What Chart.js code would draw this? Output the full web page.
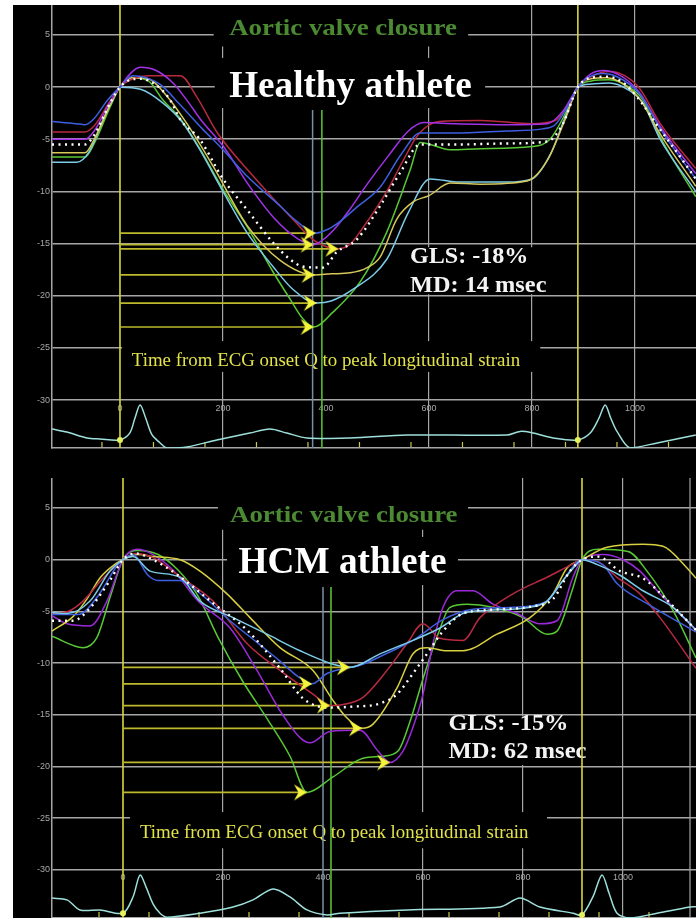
<!DOCTYPE html>
<html>
<head>
<meta charset="utf-8">
<title>Segmental longitudinal strain – healthy vs HCM athlete</title>
<script src="https://cdn.jsdelivr.net/npm/chart.js@4.4.1/dist/chart.umd.min.js"></script>
<style>
  html, body { margin:0; padding:0; width:696px; height:918px; background:#fff; overflow:hidden; }
  #sheet { position:absolute; left:13px; top:5px; width:683px; height:913px; background:#000; }
  canvas { position:absolute; left:13px; display:block; }
  #healthyChart { top:5px; }
  #hcmChart { top:478px; }
</style>
</head>
<body>
<div id="sheet"></div>
<canvas id="healthyChart" width="683" height="446"></canvas>
<canvas id="hcmChart" width="683" height="440"></canvas>
<script>
// ---------- shared axis labels ----------
const yTickValues = [5, 0, -5, -10, -15, -20, -25, -30];
const timeTickLabels = [0, 200, 400, 600, 800, 1000];
const timeGridValues = [200, 600, 800, 1000];

// ---------- healthy athlete: segmental strain [time ms, strain %] ----------
const healthyBlue = [[-132,-3.3],[-85,-3.5],[-68,-3.6],[-50,-3.0],[-25,-1.3],[0,0],[25,1.1],[50,0.9],[80,0.2],[115,-1.6],[160,-4.0],[200,-6.0],[246,-8.5],[311,-11.4],[344,-12.9],[380,-14.0],[405,-13.6],[427,-12.9],[460,-11.5],[505,-9.6],[545,-6.5],[583,-4.4],[650,-4.4],[750,-4.2],[820,-4.0],[845,-3.6],[870,-1.8],[889,0],[912,1.0],[935,1.3],[965,1.0],[1010,-0.7],[1049,-4.0],[1118,-8.8]];
const healthyViolet = [[-132,-5.0],[-68,-5.0],[-50,-4.2],[-20,-1.5],[0,0],[20,1.3],[39,1.9],[70,1.6],[103,0.4],[135,-1.6],[155,-3.0],[204,-5.9],[250,-9.4],[300,-12.6],[344,-14.5],[376,-15.1],[395,-14.6],[420,-13.4],[445,-11.8],[480,-9.3],[524,-6.4],[560,-4.2],[590,-3.4],[650,-3.5],[750,-3.6],[830,-3.5],[860,-2.3],[889,0],[915,1.3],[940,1.6],[975,1.0],[1010,-0.6],[1049,-3.8],[1118,-8.3]];
const healthyRed = [[-132,-4.3],[-68,-4.3],[-50,-3.7],[-20,-1.4],[0,0],[25,0.8],[55,1.1],[117,1.1],[150,-1.0],[188,-4.3],[258,-8.5],[336,-12.7],[380,-14.8],[424,-15.5],[448,-15.0],[470,-13.6],[518,-10.0],[548,-7.2],[580,-4.5],[620,-3.3],[700,-3.2],[800,-3.5],[845,-3.2],[870,-1.7],[889,0],[915,1.0],[950,1.5],[980,1.1],[1010,-0.2],[1049,-3.5],[1118,-7.8]];
const healthyYellow = [[-132,-6.3],[-68,-6.3],[-50,-5.0],[-20,-1.8],[0,0],[25,0.9],[55,0.8],[90,-0.8],[130,-3.5],[181,-7.6],[246,-13.2],[311,-16.6],[378,-18.0],[410,-17.9],[447,-17.8],[480,-17.3],[505,-16.3],[538,-12.6],[569,-11.0],[600,-10.4],[641,-9.2],[700,-9.3],[790,-9.0],[830,-7.0],[865,-3.0],[889,0],[915,0.8],[945,0.9],[980,0.2],[1010,-1.2],[1049,-4.5],[1118,-9.5]];
const healthyCyan = [[-132,-7.2],[-84,-7.2],[-60,-6.2],[-30,-2.8],[-10,-0.7],[0,0],[40,-0.2],[83,-1.5],[120,-3.3],[155,-6.0],[200,-10.0],[246,-13.9],[297,-17.2],[336,-19.4],[382,-20.7],[410,-20.5],[452,-19.4],[518,-16.5],[560,-12.0],[602,-8.8],[660,-9.1],[751,-9.1],[800,-8.8],[835,-6.5],[865,-2.8],[889,0],[915,0.3],[950,0.4],[985,-0.2],[1015,-1.5],[1049,-5.0],[1118,-10.0]];
const healthyGreen = [[-132,-6.7],[-68,-6.7],[-50,-5.4],[-20,-2.0],[0,0],[25,0.9],[55,0.6],[83,-1.2],[117,-3.0],[155,-5.9],[200,-9.8],[246,-13.3],[297,-17.7],[330,-20.3],[355,-22.2],[376,-23.0],[413,-21.6],[466,-18.7],[518,-13.9],[563,-8.0],[583,-5.3],[641,-6.0],[700,-5.9],[800,-5.7],[835,-5.0],[865,-2.5],[889,0],[915,0.6],[950,0.7],[985,0.1],[1015,-1.2],[1049,-4.8],[1118,-10.5]];
const healthyMean = [[-132,-5.5],[-68,-5.5],[-50,-4.6],[-20,-1.6],[0,0],[20,0.7],[40,0.8],[70,0.2],[97,-1.2],[117,-3.1],[155,-5.0],[200,-8.8],[246,-11.7],[297,-14.9],[330,-16.5],[355,-17.2],[394,-17.3],[421,-15.8],[460,-14.6],[505,-11.4],[544,-8.2],[583,-5.5],[650,-5.5],[750,-5.4],[830,-5.2],[860,-3.5],[889,0],[915,0.9],[945,1.0],[975,0.5],[1005,-1.0],[1045,-3.8],[1085,-6.5],[1118,-8.8]];
// time to peak strain per segment (blue, violet, red, yellow, cyan, green)
const healthyPeakTime = [380, 376, 424, 378, 382, 376];
const healthyPeakStrain = [-14.0, -15.1, -15.5, -18.0, -20.7, -23.0];
const healthyEcg = [[-132,0.27],[-103,0.18],[-64,0.0],[-39,-0.03],[0,-0.06],[19,0.15],[29,0.6],[39,1.0],[50,0.6],[62,0.1],[78,-0.15],[91,-0.3],[130,-0.27],[188,-0.06],[252,0.15],[291,0.27],[324,0.15],[363,0.0],[447,0.0],[557,0.09],[751,0.09],[777,0.2],[802,0.15],[841,0.0],[889,-0.06],[913,0.15],[930,0.6],[942,1.0],[953,0.6],[965,0.2],[990,-0.3],[1043,-0.15],[1118,0.09]];
const healthyQDots = [[0,-0.06],[889,-0.06]];
const healthyQOnset = [0, 889];
const healthyAvc = [374, 392];
const healthyEcgTicks = [-35, 65, 165, 265, 365, 465, 565, 665, 765, 865, 965, 1065];

// ---------- HCM athlete: segmental strain [time ms, strain %] ----------
const hcmBlue = [[-142,-5.3],[-90,-5.3],[-50,-3.5],[-15,-0.8],[0,0],[20,0.5],[50,-1.5],[70,-2.0],[114,-2.0],[160,-3.5],[214,-5.9],[268,-8.0],[314,-9.8],[350,-11.3],[378,-12.0],[408,-11.0],[480,-10.1],[530,-9.0],[580,-7.8],[640,-5.8],[700,-4.8],[780,-4.6],[848,-4.0],[880,-2.0],[918,0],[960,-0.5],[988,-2.3],[1050,-4.3],[1146,-7.0]];
const hcmCyan = [[-142,-5.1],[-112,-5.2],[-66,-4.0],[-26,-1.1],[0,0],[20,0.3],[54,-1.1],[114,-1.7],[154,-4.0],[220,-5.6],[288,-7.2],[354,-8.8],[420,-10.1],[454,-10.4],[514,-9.1],[580,-7.8],[634,-6.6],[680,-5.2],[728,-4.9],[814,-4.6],[848,-4.0],[880,-2.0],[908,-0.4],[918,0],[950,-0.5],[994,-1.5],[1040,-3.0],[1100,-4.6],[1146,-6.8]];
const hcmRed = [[-142,-5.2],[-110,-5.0],[-80,-4.0],[-40,-1.8],[0,0],[25,0.6],[60,0.2],[110,-1.5],[180,-4.0],[248,-8.1],[314,-10.7],[380,-13.0],[414,-14.1],[440,-14.0],[480,-13.3],[528,-10.7],[568,-8.1],[600,-6.2],[634,-7.6],[680,-7.8],[714,-5.6],[780,-3.3],[848,-1.7],[900,-0.4],[918,0],[950,-0.2],[988,-1.7],[1034,-3.3],[1074,-5.6],[1146,-10.5]];
const hcmYellow = [[-142,-6.9],[-100,-5.5],[-75,-4.0],[-45,-1.7],[-15,-0.4],[0,0],[30,0.5],[60,0.3],[114,0],[154,-1.1],[208,-3.3],[254,-5.6],[314,-8.5],[380,-10.7],[420,-13.6],[448,-15.3],[478,-16.3],[500,-15.9],[548,-12.4],[580,-9.1],[608,-8.5],[648,-8.8],[680,-8.8],[748,-7.2],[814,-5.6],[860,-3.3],[888,-0.8],[918,0],[968,1.2],[1040,1.5],[1080,1.3],[1128,-0.8],[1146,-1.8]];
const hcmPurple = [[-142,-5.4],[-112,-6.2],[-66,-6.4],[-32,-4.0],[0,0],[28,1.0],[60,0.5],[100,-1.0],[150,-4.0],[214,-6.6],[268,-10.7],[314,-14.6],[354,-17.2],[374,-17.7],[414,-16.6],[474,-16.5],[510,-18.5],[534,-19.6],[560,-18.5],[580,-16.2],[600,-13.0],[620,-8.1],[640,-4.6],[668,-3.0],[700,-3.0],[740,-4.3],[788,-5.2],[834,-6.2],[868,-5.9],[900,-1.7],[918,0],[960,0.5],[1000,0.0],[1034,-1.1],[1074,-3.3],[1146,-6.8]];
const hcmGreen = [[-142,-7.4],[-80,-8.5],[-52,-7.5],[-25,-3.5],[0,0],[30,0.9],[70,0.5],[110,-1.0],[150,-3.5],[190,-7.5],[240,-11.8],[290,-15.5],[334,-19.0],[368,-22.5],[420,-21.0],[480,-19.2],[520,-19.0],[550,-18.5],[575,-15.5],[600,-11.5],[630,-7.2],[654,-4.6],[688,-4.3],[740,-4.6],[800,-5.6],[848,-7.2],[868,-6.9],[900,-2.7],[918,0],[950,1.0],[1010,0.8],[1048,-1.1],[1100,-4.9],[1146,-9.5]];
const hcmMean = [[-142,-5.9],[-100,-5.9],[-70,-4.9],[-26,-2.0],[0,0],[25,0.6],[60,0],[110,-1.5],[180,-4.2],[248,-6.8],[314,-10.5],[360,-13.4],[408,-14.3],[460,-14.2],[514,-13.9],[548,-13.0],[580,-11.0],[608,-9.1],[640,-6.9],[680,-5.2],[750,-4.8],[820,-4.5],[860,-3.8],[894,-1.1],[918,0],[950,0.3],[994,-1.1],[1040,-1.8],[1088,-3.9],[1146,-6.8]];
// time to peak strain per segment (cyan, blue, red, yellow, purple, green)
const hcmPeakTime = [454, 378, 414, 478, 534, 368];
const hcmPeakStrain = [-10.4, -12.0, -14.1, -16.3, -19.6, -22.5];
const hcmEcg = [[-142,0.36],[-112,0.31],[-86,0.03],[-46,0.03],[0,-0.06],[20,0.39],[34,1.0],[46,0.67],[60,0.2],[74,-0.06],[88,-0.17],[154,-0.06],[220,0.11],[260,0.31],[300,0.61],[334,0.39],[368,0.03],[408,-0.11],[434,-0.06],[568,0.03],[754,0.11],[794,0.36],[834,0.11],[900,-0.06],[918,-0.11],[940,0.4],[958,1.0],[972,0.5],[988,-0.06],[1014,-0.19],[1068,-0.06],[1134,0.11],[1146,0.12]];
const hcmQDots = [[0,-0.06],[918,-0.11]];
const hcmQOnset = [0, 918];
const hcmAvc = [400, 416];
const hcmEcgTicks = [-48, 52, 152, 252, 352, 452, 552, 652, 752, 852, 952, 1052];

// ---------- drawing helpers ----------
const SERIF = '"Liberation Serif", "Times New Roman", serif';
const GRID = '#a6a6a6';

// bold yellow arrow head whose tip sits at the image centre
function makeArrowHead(color) {
  const c = document.createElement('canvas');
  c.width = 30; c.height = 20;
  const g = c.getContext('2d');
  g.fillStyle = color;
  g.beginPath();
  g.moveTo(2, 2); g.lineTo(15, 10); g.lineTo(2, 18); g.lineTo(6.5, 10);
  g.closePath(); g.fill();
  return c;
}
const ARROW_HEAD = makeArrowHead('#f4f43c');

const pts = arr => arr.map(([x, y]) => ({ x, y }));

function curve(arr, color, extra) {
  return Object.assign({
    data: pts(arr), borderColor: color, borderWidth: 1.5, pointRadius: 0,
    fill: false, cubicInterpolationMode: 'monotone', yAxisID: 'y', order: 2
  }, extra || {});
}
function straight(arr, color, width, order, axis) {
  return {
    data: pts(arr), borderColor: color, borderWidth: width, pointRadius: 0,
    fill: false, tension: 0, yAxisID: axis || 'y', order: order
  };
}

// fills a black box behind captions and writes them, stretched to their span
const captionPlugin = {
  id: 'captions',
  beforeDatasetsDraw(chart, _args, o) {
    const ctx = chart.ctx, xs = chart.scales.x, ys = chart.scales.y, area = chart.chartArea;
    const X = v => xs.getPixelForValue(v), Y = v => ys.getPixelForValue(v);
    ctx.save();
    ctx.fillStyle = '#000';
    o.boxes.forEach(([t0, t1, v0, v1]) => {
      ctx.fillRect(X(t0), Y(v0), X(t1) - X(t0), Y(v1) - Y(v0));
    });
    // strain tick labels
    ctx.font = '9px "Liberation Sans", sans-serif';
    ctx.fillStyle = '#a8a8a8';
    ctx.textAlign = 'right'; ctx.textBaseline = 'middle';
    yTickValues.forEach(v => ctx.fillText(String(v), area.left - 2, Y(v)));
    // time tick labels under the -30 line
    ctx.textAlign = 'center';
    timeTickLabels.forEach(t => ctx.fillText(String(t), X(t), Y(-30) + 8));
    // ECG strip tick marks
    ctx.strokeStyle = '#c9c94e'; ctx.lineWidth = 1.2;
    o.ecgTicks.forEach(t => {
      ctx.beginPath(); ctx.moveTo(X(t), area.bottom - 1); ctx.lineTo(X(t), area.bottom - 6); ctx.stroke();
    });
    // captions
    o.texts.forEach(tx => {
      ctx.font = tx.font;
      const w = ctx.measureText(tx.s).width;
      const x0 = X(tx.from), span = X(tx.to) - x0;
      ctx.save();
      ctx.translate(x0, Y(tx.base));
      ctx.scale(span / w, 1);
      ctx.fillStyle = tx.color;
      ctx.textAlign = 'left'; ctx.textBaseline = 'alphabetic';
      ctx.fillText(tx.s, 0, 0);
      ctx.restore();
    });
    ctx.restore();
  }
};

function buildPanel(id, p) {
  const ds = [];
  // Q onset and aortic valve closure markers
  p.qOnset.forEach(t => ds.push(straight([[t, p.yMax], [t, p.yMin]], '#d6d63c', 1.6, 9)));
  ds.push(straight([[p.avc[0], p.avcTop], [p.avc[0], p.yMin]], '#7890a6', 1.5, 9));
  ds.push(straight([[p.avc[1], p.avcTop], [p.avc[1], p.yMin]], '#56bd34', 1.6, 9));
  if (p.edge) ds.push(straight([[p.edge, p.yMax], [p.edge, p.yMin]], GRID, 1.2, 9));
  // horizontal lines from Q onset to each segment's peak
  p.peakTime.forEach((t, i) => ds.push(straight([[0, p.peakStrain[i]], [t, p.peakStrain[i]]], '#bdb82e', 1.7, 7)));
  // segment curves
  p.curves.forEach(([arr, color]) => ds.push(curve(arr, color)));
  ds.push(curve(p.mean, '#ffffff', { borderWidth: 2.4, borderDash: [2, 4.5], order: 1 }));
  // ECG strip
  ds.push(curve(p.ecg, '#9ee0dc', { yAxisID: 'ye', borderWidth: 1.5, cubicInterpolationMode: 'default', tension: 0.3, order: 3 }));
  ds.push({ data: pts(p.qDots), yAxisID: 'ye', showLine: false, pointRadius: 3, pointBackgroundColor: '#e6f05a', pointBorderWidth: 0, order: 0 });
  // arrow heads at the peaks
  ds.push({ data: p.peakTime.map((t, i) => ({ x: t, y: p.peakStrain[i] })), yAxisID: 'y', showLine: false, pointRadius: 4, pointStyle: ARROW_HEAD, order: 0 });

  return new Chart(document.getElementById(id), {
    type: 'line',
    data: { datasets: ds },
    options: {
      responsive: false, animation: false, events: [],
      layout: { autoPadding: false, padding: { left: 0, right: 0, top: 0, bottom: p.padBottom } },
      plugins: { legend: { display: false }, tooltip: { enabled: false }, captions: p.captions },
      scales: {
        x: {
          type: 'linear', min: p.xMin, max: p.xMax,
          afterBuildTicks: s => { s.ticks = timeGridValues.map(v => ({ value: v })); },
          afterFit: s => { s.height = 0; },
          ticks: { display: false },
          grid: { color: GRID, lineWidth: 1.2, drawTicks: false },
          border: { display: true, color: GRID, width: 1.5 }
        },
        y: {
          type: 'linear', position: 'left', min: p.yMin, max: p.yMax,
          afterBuildTicks: s => { s.ticks = yTickValues.map(v => ({ value: v })); },
          afterFit: s => { s.width = 39; },
          ticks: { display: false },
          grid: { color: GRID, lineWidth: 1.6, drawTicks: false },
          border: { display: true, color: GRID, width: 1.5 }
        },
        ye: { type: 'linear', position: 'right', display: false, min: p.eMin, max: p.eMax }
      }
    },
    plugins: [captionPlugin]
  });
}

const boldSerif = px => `bold ${px}px ${SERIF}`;

buildPanel('healthyChart', {
  xMin: -132, xMax: 1118.4, yMin: -34.6, yMax: 7.877, eMin: -0.303, eMax: 13.12, padBottom: 3,
  qOnset: healthyQOnset, avc: healthyAvc, avcTop: -2.2,
  peakTime: healthyPeakTime, peakStrain: healthyPeakStrain,
  curves: [[healthyBlue, '#3f5fe0'], [healthyViolet, '#a232e8'], [healthyRed, '#b82a40'],
           [healthyYellow, '#d6c85a'], [healthyCyan, '#7ccbe8'], [healthyGreen, '#58c835']],
  mean: healthyMean, ecg: healthyEcg, qDots: healthyQDots,
  captions: {
    ecgTicks: healthyEcgTicks,
    boxes: [[182, 676, 7.9, 3.9], [184, 709, 2.8, -2.0], [4, 816, -24.35, -27.3], [553, 839, -15.35, -19.85]],
    texts: [
      { s: 'Aortic valve closure', from: 212, to: 654, base: 5.0, font: boldSerif(24), color: '#4b8a33' },
      { s: 'Healthy athlete', from: 212, to: 683, base: -0.95, font: boldSerif(37), color: '#ffffff' },
      { s: 'Time from ECG onset Q to peak longitudinal strain', from: 23, to: 777, base: -26.7, font: `18.5px ${SERIF}`, color: '#e2e24a' },
      { s: 'GLS: -18%', from: 563, to: 793, base: -16.9, font: boldSerif(23), color: '#f4f4f4' },
      { s: 'MD: 14 msec', from: 563, to: 828, base: -19.6, font: boldSerif(23), color: '#f4f4f4' }
    ]
  }
});

buildPanel('hcmChart', {
  xMin: -142, xMax: 1146, yMin: -34.64, yMax: 7.9, eMin: -0.194, eMax: 12.03, padBottom: 0,
  qOnset: hcmQOnset, avc: hcmAvc, avcTop: -2.64, edge: 1134,
  peakTime: hcmPeakTime, peakStrain: hcmPeakStrain,
  curves: [[hcmCyan, '#7ccbe8'], [hcmBlue, '#3f5fe0'], [hcmRed, '#b82a40'],
           [hcmYellow, '#d8d040'], [hcmPurple, '#9a2ad8'], [hcmGreen, '#58c835']],
  mean: hcmMean, ecg: hcmEcg, qDots: hcmQDots,
  captions: {
    ecgTicks: hcmEcgTicks,
    boxes: [[190, 690, 7.9, 2.9], [208, 670, 2.2, -2.45], [14, 848, -24.4, -27.9], [640, 938, -15.15, -19.85]],
    texts: [
      { s: 'Aortic valve closure', from: 214, to: 669, base: 3.67, font: boldSerif(24), color: '#4b8a33' },
      { s: 'HCM athlete', from: 231, to: 647, base: -1.26, font: boldSerif(37), color: '#ffffff' },
      { s: 'Time from ECG onset Q to peak longitudinal strain', from: 34, to: 811, base: -26.94, font: `18.5px ${SERIF}`, color: '#e2e24a' },
      { s: 'GLS: -15%', from: 651, to: 891, base: -16.47, font: boldSerif(23), color: '#f4f4f4' },
      { s: 'MD: 62 msec', from: 651, to: 927, base: -19.2, font: boldSerif(23), color: '#f4f4f4' }
    ]
  }
});
</script>
</body>
</html>
